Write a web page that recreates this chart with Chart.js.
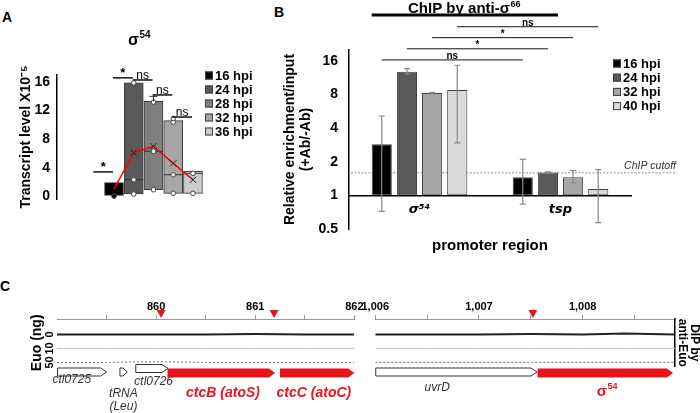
<!DOCTYPE html>
<html lang="en">
<head>
<meta charset="UTF-8">
<title>σ54 transcript level and ChIP</title>
<script src="https://cdn.jsdelivr.net/npm/chart.js@4.4.1/dist/chart.umd.min.js"></script>
<style>
  body { margin: 0; background: #fff; }
  #figure { position: relative; width: 700px; height: 413px; overflow: hidden; font-family: 'Liberation Sans', Arial, sans-serif; }
  #figure canvas { position: absolute; }
  .panel-label { position: absolute; font-weight: bold; font-size: 14px; line-height: 14px; }
</style>
</head>
<body>
<div id="figure">
  <div class="panel-label" style="left:2px;top:10px">A</div>
  <div class="panel-label" style="left:274px;top:5px">B</div>
  <div class="panel-label" style="left:0px;top:279px">C</div>
  <canvas id="chartA" width="276" height="215" style="left:0;top:0"></canvas>
  <canvas id="chartB" width="430" height="292" style="left:250px;top:0"></canvas>
  <canvas id="chartCLeft" width="365" height="123" style="left:0;top:290px"></canvas>
  <canvas id="chartCRight" width="340" height="123" style="left:360px;top:290px"></canvas>
</div>
<script>
// Painel A: nível de transcrito de σ54 (box plot)
const hpiA = ['16 hpi', '24 hpi', '28 hpi', '32 hpi', '36 hpi'];
const boxMinA = [0.1, 0.3, 0.9, 0.4, 0.4];
const boxMaxA = [1.9, 15.9, 13.3, 10.6, 3.5];
const medianA = [null, 2.3, 6.3, 3.0, 3.2];
const meanA = [1.0, 6.1, 7.0, 4.6, 2.3];
const whiskerA = [null, null, 14.0, null, null];
const replicatesA = [[0.0], [0.3, 2.3, 15.9], [0.9, 6.3, 13.2], [0.4, 3.0, 10.4, 10.9], [0.4, 3.2]];
const yTicksA = [0, 4, 8, 12, 16];
const sigA = [
    { from: -1, to: 0, level: 3.4, label: '*' },
    { from: 0, to: 1, level: 16.6, label: '*' },
    { from: 1, to: 2, level: 16.3, label: 'ns' },
    { from: 2, to: 3, level: 14.2, label: 'ns' },
    { from: 3, to: 4, level: 11.1, label: 'ns' }
];

// Painel B: ChIP por anti-σ66
const promoters = ['σ⁵⁴', 'tsp'];
const hpiB = ['16 hpi', '24 hpi', '32 hpi', '40 hpi'];
const enrich16 = [2.87, 1.45];
const enrich24 = [12.8, 1.6];
const enrich32 = [8.25, 1.45];
const enrich40 = [8.78, 1.14];
const errLow16 = [0.72, 0.835];
const errHigh16 = [5.13, 2.1];
const errLow24 = [12.2, 1.58];
const errHigh24 = [13.6, 1.62];
const errLow32 = [8.1, 1.29];
const errHigh32 = [8.35, 1.67];
const errLow40 = [2.95, 0.57];
const errHigh40 = [14.6, 1.7];
const chipCutoff = 1.59;
const yTicksB = [0.5, 1, 2, 4, 8, 16];
const sigB = [
    { series: 0, level: 16.3, label: 'ns' },
    { series: 1, level: 20.5, label: '*' },
    { series: 2, level: 25.8, label: '*' },
    { series: 3, level: 32.3, label: 'ns' }
];

// Painel C: DIP-seq anti-Euo (kb)
const rangeLeft = [859, 862];
const rangeRight = [1006, 1008.89];
const xTicksLeft = [859.5, 860, 860.5, 861, 861.5, 862];
const xTicksRight = [1006, 1006.5, 1007, 1007.5, 1008, 1008.5];
const trackNames = ['0', '10', '50'];
const trackPosLeft = [859.0, 859.5, 860.0, 860.5, 861.0, 861.5, 862.0];
const euo0Left = [0, 0, 0, 0, -0.03, 0, 0];
const euo10Left = [0, 0, 0, 0, 0, 0, 0];
const euo50Left = [0, 0, -0.05, 0, 0, 0, 0];
const trackPosRight = [1006.0, 1006.5, 1007.0, 1007.5, 1008.0, 1008.4, 1008.89];
const euo0Right = [0, 0, 0, -0.03, 0, -0.06, 0];
const euo10Right = [0, 0, 0, 0, 0, 0, 0];
const euo50Right = [0, 0, 0, 0, 0, 0, 0];
const geneNames = ['ctl0725', 'tRNA (Leu)', 'ctl0726', 'ctcB (atoS)', 'ctcC (atoC)', 'uvrD', 'σ54'];
const geneStart = [859.0, 859.63, 859.79, 860.11, 861.245, 1006.0, 1007.56];
const geneEnd = [859.5, 859.71, 860.12, 861.2, 862.0, 1007.56, 1008.87];
const promoterSites = [860.05, 861.19, 1007.52];

// Estilos
const FONT = "'Liberation Sans', Arial, sans-serif";
const SUP_FONT = "'DejaVu Sans', 'Liberation Sans', sans-serif";
const colorsA = ['#000000', '#595959', '#7f7f7f', '#a6a6a6', '#cccccc'];
const colorsB = ['#000000', '#595959', '#a6a6a6', '#d9d9d9'];
const RED = '#e8141b';
const highlighted = ['ctcB (atoS)', 'ctcC (atoC)', 'σ54'];
// posição dos rótulos dos genes (px relativos ao topo da área do gráfico)
const geneLabelLayout = {
    'ctl0725': { dx: -10, dy: 61 },
    'tRNA (Leu)': { dx: 0, dy: 75, lines: ['tRNA', '(Leu)'] },
    'ctl0726': { dx: 2, dy: 63 },
    'ctcB (atoS)': { dx: 2, dy: 74 },
    'ctcC (atoC)': { dx: -3, dy: 74 },
    'uvrD': { dx: -19, dy: 69 },
    'σ54': { dx: 2, dy: 73, sup: true }
};

Chart.defaults.font.family = FONT;
Chart.defaults.color = '#000';

function font(size, weight, style, family) {
    return `${style || 'normal'} ${weight || 'normal'} ${size}px ${family || FONT}`;
}

// Texto com expoente (σ54, σ66)
function drawSupText(ctx, base, sup, cx, cy, size, weight, color, rise) {
    ctx.save();
    const baseFont = font(size, weight);
    const supFont = font(Math.round(size * 0.62), weight);
    ctx.font = baseFont;
    const wb = ctx.measureText(base).width;
    ctx.font = supFont;
    const ws = ctx.measureText(sup).width;
    const x = cx - (wb + ws) / 2;
    ctx.fillStyle = color;
    ctx.textAlign = 'left';
    ctx.textBaseline = 'middle';
    ctx.font = baseFont;
    ctx.fillText(base, x, cy);
    ctx.font = supFont;
    ctx.fillText(sup, x + wb + 0.5, cy - size * (rise || 0.36));
    ctx.restore();
}

// Legenda desenhada à mão
function drawLegend(ctx, items, x, y, step, box) {
    ctx.save();
    ctx.font = font(13, 'bold');
    ctx.textBaseline = 'middle';
    items.forEach((it, i) => {
        const cy = y + i * step;
        ctx.fillStyle = it.color;
        ctx.fillRect(x, cy - box / 2, box, box);
        ctx.strokeStyle = '#404040';
        ctx.lineWidth = 1;
        ctx.strokeRect(x + 0.5, cy - box / 2 + 0.5, box - 1, box - 1);
        ctx.fillStyle = '#000';
        ctx.fillText(it.label, x + box + 2, cy + 0.5);
    });
    ctx.restore();
}

function drawSigLine(ctx, x0, x1, y, label, width, labelFont) {
    ctx.save();
    ctx.strokeStyle = '#111';
    ctx.lineWidth = width;
    ctx.beginPath();
    ctx.moveTo(x0, y);
    ctx.lineTo(x1, y);
    ctx.stroke();
    ctx.font = labelFont;
    ctx.fillStyle = '#000';
    ctx.textAlign = 'center';
    ctx.textBaseline = 'alphabetic';
    ctx.fillText(label, (x0 + x1) / 2, y - 1);
    ctx.restore();
}

// Gráfico A
function initializeChartA() {
    const points = [];
    replicatesA.forEach((vals, i) => vals.forEach(v => points.push({ x: i, y: v })));

    const extras = {
        id: 'chartAExtras',
        afterDatasetsDraw(chart) {
            const { ctx, scales: { x, y } } = chart;
            ctx.save();
            ctx.strokeStyle = '#333';
            ctx.lineWidth = 1;
            whiskerA.forEach((w, i) => {
                if (w === null) return;
                const px = x.getPixelForValue(i);
                ctx.beginPath();
                ctx.moveTo(px, y.getPixelForValue(boxMaxA[i]));
                ctx.lineTo(px, y.getPixelForValue(w));
                ctx.moveTo(px - 4, y.getPixelForValue(w));
                ctx.lineTo(px + 4, y.getPixelForValue(w));
                ctx.stroke();
            });
            ctx.restore();
        },
        afterDraw(chart) {
            const { ctx, scales: { x, y } } = chart;
            drawSupText(ctx, 'σ', '54', 139, 41, 16, 'bold', '#000');
            sigA.forEach(s => {
                const lf = s.label === '*' ? font(13, 'bold') : font(12);
                drawSigLine(ctx, x.getPixelForValue(s.from) - 1, x.getPixelForValue(s.to) - 1, y.getPixelForValue(s.level), s.label, 1.5, lf);
            });
            drawLegend(ctx, hpiA.map((h, i) => ({ label: h, color: colorsA[i] })), 205, 75.5, 14, 8);
        }
    };

    new Chart(document.getElementById('chartA').getContext('2d'), {
        type: 'bar',
        data: {
            datasets: [
                {
                    type: 'line',
                    label: 'mean',
                    data: meanA.map((v, i) => ({ x: i, y: v })),
                    borderColor: '#ff0000',
                    borderWidth: 1.5,
                    pointStyle: 'crossRot',
                    pointRadius: meanA.map((v, i) => i === 0 ? 0 : 4.5),
                    pointBorderColor: '#222',
                    pointBorderWidth: 1,
                    order: 0
                },
                {
                    type: 'scatter',
                    label: 'replicates',
                    data: points,
                    pointRadius: 2.3,
                    pointBackgroundColor: points.map(p => p.x === 0 ? '#000' : '#fff'),
                    pointBorderColor: '#444',
                    pointBorderWidth: 1,
                    order: 1
                },
                {
                    type: 'scatter',
                    label: 'median',
                    data: medianA.map((v, i) => ({ x: i, y: v })).filter(p => p.y !== null),
                    pointStyle: 'line',
                    pointRadius: 9.5,
                    pointBorderColor: '#333',
                    pointBorderWidth: 1,
                    order: 2
                },
                {
                    type: 'bar',
                    label: 'transcript',
                    data: hpiA.map((h, i) => ({ x: i, y: [boxMinA[i], boxMaxA[i]] })),
                    backgroundColor: colorsA,
                    borderColor: '#3c3c3c',
                    borderWidth: 1,
                    borderSkipped: false,
                    barThickness: 19,
                    order: 3
                }
            ]
        },
        options: {
            responsive: false,
            animation: false,
            layout: { padding: { left: 0, right: 71, top: 75, bottom: 16 } },
            plugins: {
                legend: { display: false },
                tooltip: { enabled: false }
            },
            scales: {
                x: { type: 'linear', offset: false, min: -2.89, max: 4.61, display: false },
                y: {
                    min: -0.4,
                    max: 17,
                    afterBuildTicks: s => { s.ticks = yTicksA.map(v => ({ value: v })); },
                    afterFit: s => { s.width = 57; },
                    grid: { display: false, drawTicks: false },
                    border: { color: '#000', width: 1.5 },
                    ticks: { font: { size: 14, weight: 'bold' }, color: '#000', padding: 7 },
                    title: {
                        display: true,
                        text: 'Transcript level X10⁻⁵',
                        font: { size: 14, weight: 'bold' },
                        color: '#000',
                        padding: { top: 18, bottom: 0 }
                    }
                }
            }
        },
        plugins: [extras]
    });
}

// Gráfico B
function initializeChartB() {
    const seriesB = [
        { label: hpiB[0], values: enrich16, low: errLow16, high: errHigh16 },
        { label: hpiB[1], values: enrich24, low: errLow24, high: errHigh24 },
        { label: hpiB[2], values: enrich32, low: errLow32, high: errHigh32 },
        { label: hpiB[3], values: enrich40, low: errLow40, high: errHigh40 }
    ];

    const extras = {
        id: 'chartBExtras',
        beforeDatasetsDraw(chart) {
            // linha de corte do ChIP
            const { ctx, scales: { y }, chartArea } = chart;
            const py = y.getPixelForValue(chipCutoff);
            ctx.save();
            ctx.strokeStyle = '#b5b5b5';
            ctx.lineWidth = 1.5;
            ctx.setLineDash([2, 1.5]);
            ctx.beginPath();
            ctx.moveTo(chartArea.left + 2, py);
            ctx.lineTo(427, py);
            ctx.stroke();
            ctx.restore();
            ctx.save();
            ctx.font = font(10.5, 'normal', 'italic');
            ctx.fillStyle = '#333';
            ctx.textAlign = 'right';
            ctx.textBaseline = 'middle';
            ctx.fillText('ChIP cutoff', 426, py - 6.5);
            ctx.restore();
        },
        afterDatasetsDraw(chart) {
            // barras de erro
            const { ctx, scales: { y } } = chart;
            ctx.save();
            ctx.strokeStyle = '#8a8a8a';
            ctx.lineWidth = 1.2;
            seriesB.forEach((s, i) => {
                chart.getDatasetMeta(i).data.forEach((bar, j) => {
                    const yl = y.getPixelForValue(s.low[j]);
                    const yh = y.getPixelForValue(s.high[j]);
                    ctx.beginPath();
                    ctx.moveTo(bar.x, yl);
                    ctx.lineTo(bar.x, yh);
                    ctx.moveTo(bar.x - 3, yl);
                    ctx.lineTo(bar.x + 3, yl);
                    ctx.moveTo(bar.x - 3, yh);
                    ctx.lineTo(bar.x + 3, yh);
                    ctx.stroke();
                });
            });
            ctx.restore();
        },
        afterDraw(chart) {
            const { ctx, scales: { y } } = chart;
            // título e linha sob o título
            drawSupText(ctx, 'ChIP by anti-σ', '66', 214, 8.5, 15, 'bold', '#000', 0.27);
            const b0 = chart.getDatasetMeta(0).data[0];
            const b1 = chart.getDatasetMeta(1).data[1];
            ctx.save();
            ctx.strokeStyle = '#000';
            ctx.lineWidth = 3;
            ctx.beginPath();
            ctx.moveTo(b0.x - b0.width / 2, 15);
            ctx.lineTo(b1.x + b1.width / 2, 15);
            ctx.stroke();
            ctx.restore();
            sigB.forEach(s => {
                const meta = chart.getDatasetMeta(s.series).data;
                drawSigLine(ctx, meta[0].x, meta[1].x, y.getPixelForValue(s.level), s.label, 1, font(10, 'bold'));
            });
            drawLegend(ctx, seriesB.map((s, i) => ({ label: s.label, color: colorsB[i] })), 363, 63.5, 14.2, 8);
        }
    };

    new Chart(document.getElementById('chartB').getContext('2d'), {
        type: 'bar',
        data: {
            labels: promoters,
            datasets: seriesB.map((s, i) => ({
                label: s.label,
                data: s.values,
                backgroundColor: colorsB[i],
                borderColor: '#404040',
                borderWidth: 1,
                borderSkipped: false,
                base: 1,
                categoryPercentage: 0.714,
                barPercentage: 0.8
            }))
        },
        options: {
            responsive: false,
            animation: false,
            layout: { padding: { left: 0, right: 49, top: 50, bottom: 63 } },
            plugins: {
                legend: { display: false },
                tooltip: { enabled: false }
            },
            scales: {
                x: {
                    position: { y: 1 },
                    afterFit: s => { s.height = 63; },
                    grid: { display: false, drawTicks: false },
                    border: { color: '#000', width: 1.5 },
                    ticks: { font: { size: 13, weight: 'bold', style: 'italic', family: SUP_FONT }, color: '#000', padding: 6 },
                    title: {
                        display: true,
                        text: 'promoter region',
                        font: { size: 15, weight: 'bold' },
                        color: '#000',
                        padding: { top: 0, bottom: 4 }
                    }
                },
                y: {
                    type: 'logarithmic',
                    min: 0.5,
                    max: 20,
                    afterBuildTicks: s => { s.ticks = yTicksB.map(v => ({ value: v })); },
                    afterFit: s => { s.width = 99; },
                    grid: { display: false, drawTicks: false },
                    border: { color: '#000', width: 1.5 },
                    ticks: { font: { size: 14, weight: 'bold' }, color: '#000', padding: 11, callback: v => String(v) },
                    title: {
                        display: true,
                        text: ['Relative enrichment/input', '(+Ab/-Ab)'],
                        font: { size: 14, weight: 'bold', lineHeight: 1.15 },
                        color: '#000',
                        padding: { top: 32, bottom: 0 }
                    }
                }
            }
        },
        plugins: [extras]
    });
}

// Genes e promotores (painel C)
function drawGene(ctx, x0, x1, yc, h, fill, stroke) {
    const head = Math.min(6, (x1 - x0) * 0.6);
    ctx.beginPath();
    ctx.moveTo(x0, yc - h / 2);
    ctx.lineTo(x1 - head, yc - h / 2);
    ctx.lineTo(x1, yc);
    ctx.lineTo(x1 - head, yc + h / 2);
    ctx.lineTo(x0, yc + h / 2);
    ctx.closePath();
    ctx.fillStyle = fill;
    ctx.fill();
    if (stroke) {
        ctx.strokeStyle = stroke;
        ctx.lineWidth = 1;
        ctx.stroke();
    }
}

const genePlugin = {
    id: 'genes',
    afterDraw(chart) {
        const { ctx, scales: { x }, chartArea } = chart;
        const top = chartArea.top;
        ctx.save();
        promoterSites.forEach(p => {
            if (p < x.min || p > x.max) return;
            const px = x.getPixelForValue(p);
            ctx.beginPath();
            ctx.moveTo(px - 4.5, top - 9);
            ctx.lineTo(px + 4.5, top - 9);
            ctx.lineTo(px, top - 1);
            ctx.closePath();
            ctx.fillStyle = RED;
            ctx.fill();
        });
        geneNames.forEach((name, i) => {
            if (geneStart[i] < x.min - 0.01 || geneStart[i] > x.max) return;
            const x0 = x.getPixelForValue(geneStart[i]);
            const x1 = x.getPixelForValue(geneEnd[i]);
            const red = highlighted.includes(name);
            const raised = name === 'ctl0726';
            const yc = top + (raised ? 49.5 : (red ? 54 : 53));
            drawGene(ctx, x0 + 0.5, x1, yc, red ? 9 : 8, red ? RED : '#fff', red ? null : '#333');
            const lay = geneLabelLayout[name];
            const cx = (x0 + x1) / 2 + lay.dx;
            if (lay.sup) {
                drawSupText(ctx, name.slice(0, 1), name.slice(1), cx, top + lay.dy, 15, 'bold', RED);
                return;
            }
            const lines = lay.lines || [name];
            ctx.font = red ? font(14, 'bold', 'italic') : font(12, 'normal', 'italic');
            ctx.fillStyle = red ? RED : '#333';
            ctx.textAlign = 'center';
            ctx.textBaseline = 'middle';
            lines.forEach((ln, k) => ctx.fillText(ln, cx, top + lay.dy + k * 13));
        });
        ctx.restore();
    }
};

function trackDatasets(positions, tracks) {
    const styles = [
        { borderColor: '#222', borderWidth: 2, borderDash: [] },
        { borderColor: '#c8c8c8', borderWidth: 1, borderDash: [] },
        { borderColor: '#777', borderWidth: 1, borderDash: [2, 2] }
    ];
    return tracks.map((vals, t) => ({
        type: 'line',
        label: trackNames[t],
        data: positions.map((x, i) => ({ x, y: t + vals[i] })),
        pointRadius: 0,
        tension: 0,
        ...styles[t]
    }));
}

function genomeXAxis(range, ticks) {
    return {
        type: 'linear',
        position: 'top',
        min: range[0],
        max: range[1],
        afterBuildTicks: s => { s.ticks = ticks.map(v => ({ value: v })); },
        afterFit: s => { s.height = 29; },
        grid: { drawOnChartArea: false, drawTicks: true, tickLength: 4, color: '#999' },
        border: { color: '#999', width: 1 },
        ticks: {
            autoSkip: false,
            maxRotation: 0,
            padding: 1.5,
            font: { size: 11, weight: 'bold' },
            color: '#000',
            callback: v => Number.isInteger(v) ? v.toLocaleString('en-US') : ''
        }
    };
}

function initializeChartC() {
    new Chart(document.getElementById('chartCLeft').getContext('2d'), {
        type: 'line',
        data: { datasets: trackDatasets(trackPosLeft, [euo0Left, euo10Left, euo50Left]) },
        options: {
            responsive: false,
            animation: false,
            layout: { padding: { left: 0, right: 6, top: 0, bottom: 46.4 } },
            plugins: { legend: { display: false }, tooltip: { enabled: false } },
            scales: {
                x: genomeXAxis(rangeLeft, xTicksLeft),
                y: {
                    reverse: true,
                    min: -1.1,
                    max: 2.3,
                    afterBuildTicks: s => { s.ticks = trackNames.map((n, i) => ({ value: i })); },
                    afterFit: s => { s.width = 57; },
                    grid: { display: false, drawTicks: false },
                    border: { display: false },
                    ticks: {
                        minRotation: 90,
                        maxRotation: 90,
                        crossAlign: 'center',
                        padding: 1,
                        font: { size: 11, weight: 'bold' },
                        color: '#000',
                        callback: v => trackNames[v]
                    },
                    title: {
                        display: true,
                        text: 'Euo (ng)',
                        font: { size: 14, weight: 'bold' },
                        color: '#000',
                        padding: { top: 28.6, bottom: 0 }
                    }
                }
            }
        },
        plugins: [genePlugin]
    });

    new Chart(document.getElementById('chartCRight').getContext('2d'), {
        type: 'line',
        data: { datasets: trackDatasets(trackPosRight, [euo0Right, euo10Right, euo50Right]) },
        options: {
            responsive: false,
            animation: false,
            layout: { padding: { left: 13.5, right: 0, top: 0, bottom: 46.4 } },
            plugins: { legend: { display: false }, tooltip: { enabled: false } },
            scales: {
                x: genomeXAxis(rangeRight, xTicksRight),
                y: { reverse: true, min: -1.1, max: 2.3, display: false },
                y2: {
                    position: 'right',
                    min: 0,
                    max: 1,
                    afterFit: s => { s.width = 25; },
                    grid: { display: false, drawTicks: false },
                    border: { color: '#000', width: 1.5 },
                    ticks: { display: false },
                    title: {
                        display: true,
                        text: ['DIP by', 'anti-Euo'],
                        font: { size: 12, weight: 'bold', lineHeight: 0.95 },
                        color: '#000',
                        padding: { top: 0.3, bottom: 0 }
                    }
                }
            }
        },
        plugins: [genePlugin]
    });
}

// Inicializar página
function initializePage() {
    initializeChartA();
    initializeChartB();
    initializeChartC();
}

document.addEventListener('DOMContentLoaded', initializePage);
</script>
</body>
</html>
